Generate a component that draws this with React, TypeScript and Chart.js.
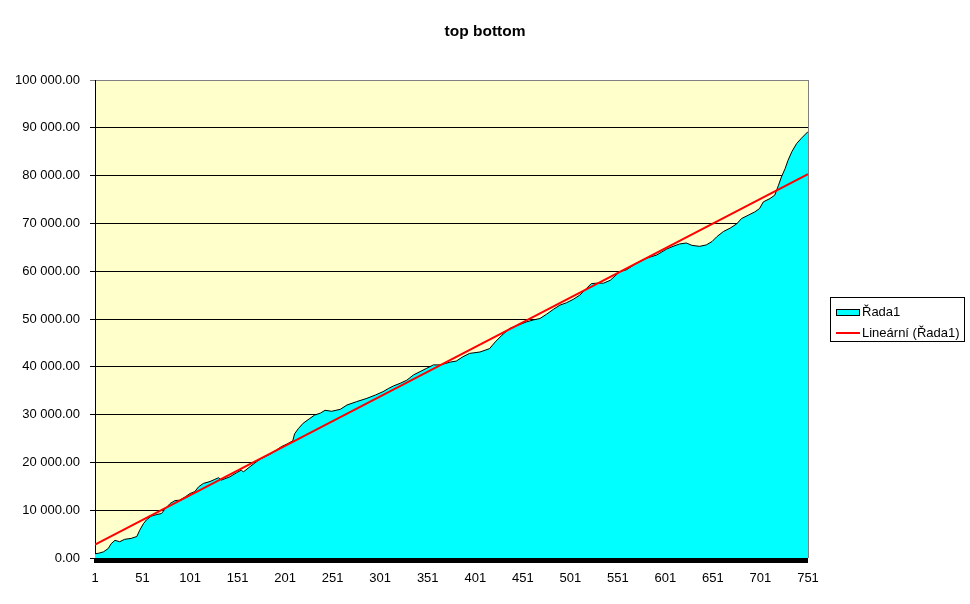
import React, { useEffect, useRef } from "react";
import { Chart, registerables } from "chart.js";

Chart.register(...registerables);

const chartTitle = "top bottom";
const seriesName = "Řada1";
const trendName = "Lineární (Řada1)";

// x positions (row index) of the sampled points of Řada1
const rowIndex = [
  1, 5, 10, 15, 18, 22, 27, 32, 39, 45, 48, 52, 55, 60, 66, 71, 74, 80, 85, 90,
  96, 101, 106, 110, 115, 122, 127, 131, 134, 143, 150, 155, 157, 164, 171, 175,
  185, 192, 197, 203, 209, 211, 215, 220, 227, 232, 238, 243, 250, 259, 266, 276,
  287, 296, 304, 310, 315, 322, 329, 336, 343, 350, 357, 364, 375, 381, 388, 395,
  406, 416, 422, 429, 437, 446, 455, 462, 469, 476, 483, 490, 497, 504, 511, 518,
  523, 529, 536, 543, 553, 560, 570, 581, 592, 602, 609, 616, 623, 629, 637, 644,
  650, 655, 662, 669, 676, 681, 688, 695, 700, 704, 711, 716, 720, 723, 727, 730,
  734, 739, 744, 751,
];

// values of Řada1 at those rows
const rada1 = [
  900, 1000, 1300, 2000, 3000, 3700, 3400, 3900, 4100, 4500, 5800, 7200, 7950,
  8750, 9100, 9300, 10100, 11400, 12000, 12100, 12800, 13500, 13900, 14900,
  15600, 16000, 16450, 16800, 16300, 17000, 17850, 18400, 18000, 19100, 20150,
  20700, 21700, 22600, 23300, 23850, 24500, 26000, 27100, 28200, 29200, 29900,
  30300, 30900, 30700, 31100, 32000, 32700, 33400, 34100, 34800, 35500, 36000,
  36550, 37200, 38300, 39000, 39700, 40400, 40400, 41000, 41200, 42100, 42800,
  43100, 43800, 45200, 46600, 48000, 48700, 49400, 49800, 50100, 51000, 52000,
  52900, 53400, 54100, 55000, 56400, 57400, 57500, 57500, 58100, 59900, 60300,
  61600, 62700, 63400, 64600, 65200, 65700, 65900, 65400, 65200, 65500, 66200,
  67200, 68300, 69000, 69900, 71000, 71700, 72400, 73100, 74500, 75200, 75900,
  78000, 79700, 81500, 83200, 85000, 86700, 87800, 89200,
];

// linear trend line end points
const trendX = [1, 751];
const trendY = [2800, 80300];

const xTicks = [1, 51, 101, 151, 201, 251, 301, 351, 401, 451, 501, 551, 601, 651, 701, 751];
const yTicks = [0, 10000, 20000, 30000, 40000, 50000, 60000, 70000, 80000, 90000, 100000];

const FONT = "'Liberation Sans', Arial, sans-serif";

function fmt(v: number): string {
  const s = Math.round(v).toString().replace(/\B(?=(\d{3})+(?!\d))/g, " ");
  return s + ".00";
}

export default function App() {
  const ref = useRef<HTMLCanvasElement | null>(null);

  useEffect(() => {
    document.body.style.margin = "0";
    const canvas = ref.current;
    if (!canvas) return;

    const plotDecor = {
      id: "plotDecor",
      beforeDraw(chart: any) {
        const { ctx, chartArea: a } = chart;
        ctx.save();
        ctx.fillStyle = "#ffffff";
        ctx.fillRect(0, 0, chart.width, chart.height);
        ctx.fillStyle = "#FFFFCC";
        ctx.fillRect(a.left, a.top, a.right - a.left, a.bottom - a.top);
        ctx.restore();
      },
      afterDraw(chart: any) {
        const { ctx, chartArea: a } = chart;
        ctx.save();
        // title
        ctx.fillStyle = "#000000";
        ctx.font = "bold 15.5px " + FONT;
        ctx.textAlign = "center";
        ctx.textBaseline = "middle";
        ctx.fillText(chartTitle, chart.width / 2, 32);

        // right border of plot area
        ctx.strokeStyle = "#808080";
        ctx.lineWidth = 1;
        ctx.beginPath();
        ctx.moveTo(Math.round(a.right) + 0.5, a.top);
        ctx.lineTo(Math.round(a.right) + 0.5, a.bottom);
        ctx.stroke();
        // thick bottom bar
        ctx.fillStyle = "#000000";
        ctx.fillRect(a.left - 1, a.bottom, a.right - a.left + 1, 5);

        // legend
        const lx = 830, ly = 297, lw = 134, lh = 44;
        ctx.fillStyle = "#ffffff";
        ctx.fillRect(lx, ly, lw, lh);
        ctx.strokeStyle = "#000000";
        ctx.lineWidth = 1;
        ctx.strokeRect(lx + 0.5, ly + 0.5, lw, lh);
        ctx.fillStyle = "#00FFFF";
        ctx.fillRect(836, 309, 23, 6);
        ctx.strokeRect(836.5, 309.5, 23, 6);
        ctx.strokeStyle = "#FF0000";
        ctx.lineWidth = 2;
        ctx.beginPath();
        ctx.moveTo(836, 333);
        ctx.lineTo(860, 333);
        ctx.stroke();
        ctx.fillStyle = "#000000";
        ctx.font = "13px " + FONT;
        ctx.textBaseline = "middle";
        ctx.textAlign = "left";
        ctx.fillText(seriesName, 862, 312);
        ctx.fillText(trendName, 862, 333);
        ctx.restore();
      },
    };

    const chart = new Chart(canvas, {
      type: "line",
      data: {
        datasets: [
          {
            label: seriesName,
            data: rowIndex.map((x, i) => ({ x, y: rada1[i] })),
            backgroundColor: "#00FFFF",
            borderColor: "#000000",
            borderWidth: 1,
            fill: "origin",
            pointRadius: 0,
            tension: 0,
            order: 2,
          },
          {
            label: trendName,
            data: trendX.map((x, i) => ({ x, y: trendY[i] })),
            borderColor: "#FF0000",
            borderWidth: 2,
            fill: false,
            pointRadius: 0,
            order: 1,
          },
        ],
      },
      options: {
        animation: false,
        responsive: false,
        maintainAspectRatio: false,
        layout: { padding: { left: 0, right: 162, top: 80, bottom: 0 } },
        plugins: {
          legend: { display: false },
          tooltip: { enabled: false },
          title: { display: false },
        },
        scales: {
          x: {
            type: "linear",
            min: 1,
            max: 751,
            afterBuildTicks: (scale: any) => {
              scale.ticks = xTicks.map((v) => ({ value: v }));
            },
            afterFit: (scale: any) => {
              scale.height = 46;
            },
            grid: { display: false, drawTicks: false },
            border: { display: false },
            ticks: {
              autoSkip: false,
              maxRotation: 0,
              padding: 13,
              color: "#000000",
              font: { family: FONT, size: 13 },
              callback: (v: any) => String(v),
            },
          },
          y: {
            min: 0,
            max: 100000,
            afterBuildTicks: (scale: any) => {
              scale.ticks = yTicks.map((v) => ({ value: v }));
            },
            afterFit: (scale: any) => {
              scale.width = 95;
            },
            grid: {
              color: (c: any) => (c.tick && c.tick.value === 100000 ? "#808080" : "#000000"),
              lineWidth: 1,
              tickLength: 5,
              drawTicks: true,
            },
            border: { display: true, color: "#000000", width: 1 },
            ticks: {
              padding: 10,
              color: "#000000",
              font: { family: FONT, size: 13 },
              callback: (v: any) => fmt(Number(v)),
            },
          },
        },
      },
      plugins: [plotDecor],
    } as any);

    return () => chart.destroy();
  }, []);

  return <canvas ref={ref} width={970} height={604} style={{ display: "block" }} />;
}
